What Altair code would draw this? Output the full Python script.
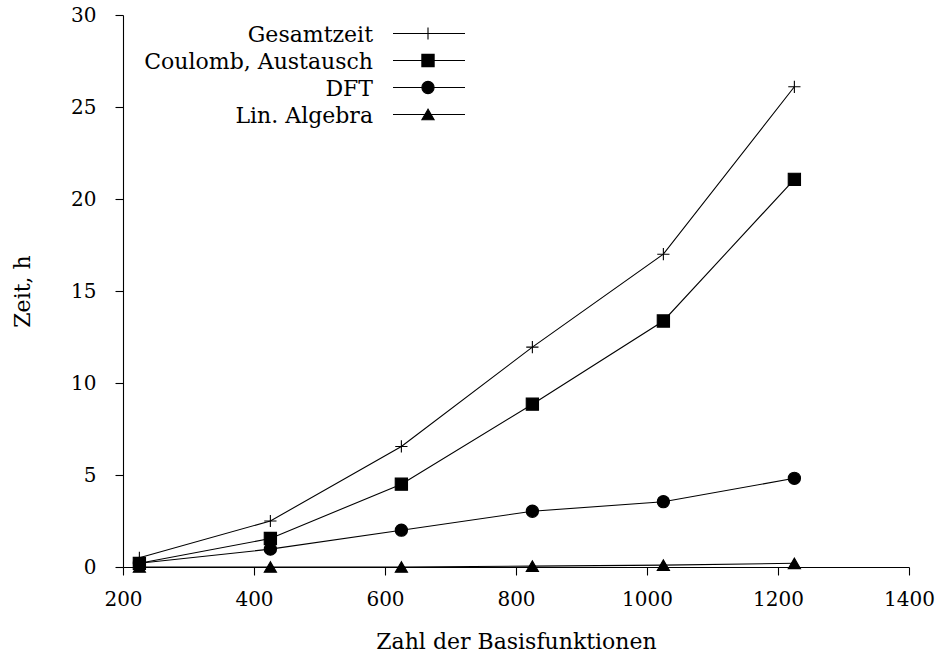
import altair as alt
import pandas as pd

# ---- data ----
basis = [225, 425, 625, 825, 1025, 1225]
series_names = ["Gesamtzeit", "Coulomb, Austausch", "DFT", "Lin. Algebra"]
gesamtzeit = [0.5, 2.5, 6.55, 11.95, 17.0, 26.1]
coulomb = [0.2, 1.55, 4.5, 8.85, 13.37, 21.07]
dft = [0.2, 0.97, 2.0, 3.03, 3.55, 4.82]
linalg = [0.0, 0.0, 0.0, 0.05, 0.1, 0.2]
x_ticks = [200, 400, 600, 800, 1000, 1200, 1400]
y_ticks = [0, 5, 10, 15, 20, 25, 30]

rows = []
for name, vals in zip(series_names, [gesamtzeit, coulomb, dft, linalg]):
    for b, v in zip(basis, vals):
        rows.append({"series": name, "basis": b, "zeit": v})
df = pd.DataFrame(rows)
legend_df = pd.DataFrame({"series": series_names})

FONT = "DejaVu Serif"
FS_LABEL = 20
FS_TEXT = 22
plus_path = "M-1,0H1M0,-1V1"
shape_scale = alt.Scale(domain=series_names,
                        range=[plus_path, "square", "circle", "triangle-up"])

xenc = alt.X("basis:Q",
             scale=alt.Scale(domain=[200, 1400], nice=False, zero=False),
             axis=alt.Axis(values=x_ticks, format="d",
                           title="Zahl der Basisfunktionen"))
yenc = alt.Y("zeit:Q",
             scale=alt.Scale(domain=[0, 30], nice=False),
             axis=alt.Axis(values=y_ticks, title="Zeit, h"))

lines = alt.Chart(df).mark_line(color="black", strokeWidth=1.1).encode(
    x=xenc, y=yenc, detail="series:N")

points = alt.Chart(df).mark_point(
    fill="black", stroke="black", strokeWidth=1.1, opacity=1, size=150,
    fillOpacity=1).encode(
    x=xenc, y=yenc,
    shape=alt.Shape("series:N", scale=shape_scale, legend=None))

# manual legend (labels to the left of the line-with-symbol samples)
leg_y = alt.Y("series:N",
              scale=alt.Scale(type="point", domain=series_names,
                              range=[18.5, 99.5], padding=0),
              axis=None)
leg_rule = alt.Chart(legend_df).mark_rule(color="black", strokeWidth=1.1).encode(
    x=alt.value(270), x2=alt.value(342), y=leg_y)
leg_pts = alt.Chart(legend_df).mark_point(
    fill="black", stroke="black", strokeWidth=1.1, opacity=1, size=150,
    fillOpacity=1).encode(
    x=alt.value(305), y=leg_y,
    shape=alt.Shape("series:N", scale=shape_scale, legend=None))
leg_txt = alt.Chart(legend_df).mark_text(
    align="right", baseline="middle", font=FONT, fontSize=FS_TEXT, color="black",
    dy=1).encode(
    x=alt.value(250), y=leg_y, text="series:N")

data_layer = alt.layer(lines, points)
legend_layer = alt.layer(leg_rule, leg_pts, leg_txt)

chart = alt.layer(data_layer, legend_layer).resolve_scale(
    y="independent", shape="shared"
).properties(
    width=786, height=552,
    padding={"left": 123, "top": 15, "right": 34, "bottom": 92},
    autosize=alt.AutoSizeParams(type="none"),
).configure_view(stroke=None).configure_axis(
    grid=False,
    domainColor="black", domainWidth=1.1,
    tickColor="black", tickWidth=1.1, tickSize=8,
    labelFont=FONT, labelFontSize=FS_LABEL, labelColor="black",
    labelFlush=False, labelOverlap=False,
    titleFont=FONT, titleFontSize=FS_TEXT, titleColor="black", titleFontWeight="normal",
).configure_axisX(
    labelPadding=14, titlePadding=22,
).configure_axisY(
    labelPadding=19, titlePadding=36,
)

chart.save("out.html", embed_options={"renderer": "svg", "actions": False})
